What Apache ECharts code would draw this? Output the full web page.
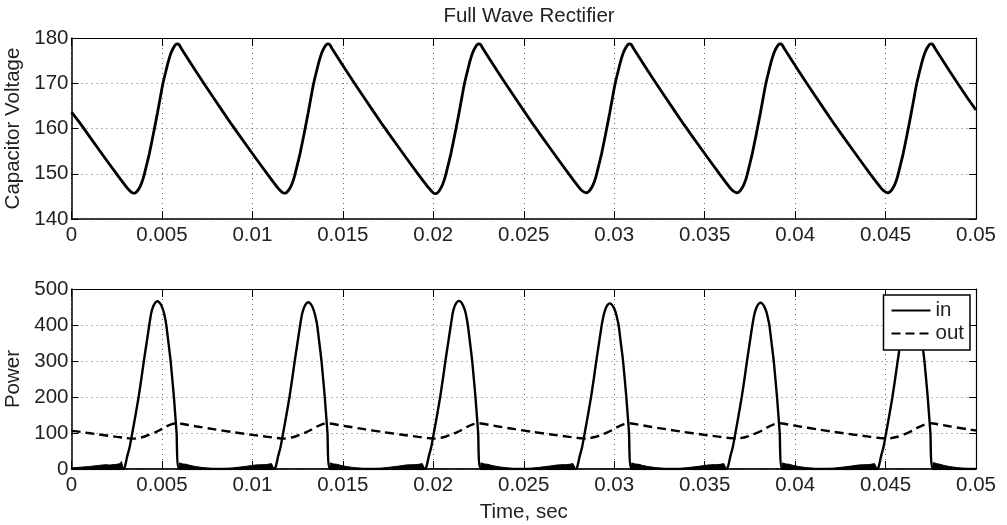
<!DOCTYPE html>
<html>
<head>
<meta charset="utf-8">
<script src="https://cdn.jsdelivr.net/npm/echarts@6/dist/echarts.min.js"></script>
<style>
html,body{margin:0;padding:0;background:#fff;}
#chart{width:1007px;height:525px;}
</style>
</head>
<body>
<div id="chart"></div>
<script>
// ---------- data ----------
const titleText = 'Full Wave Rectifier';
const xTickLabels = ['0','0.005','0.01','0.015','0.02','0.025','0.03','0.035','0.04','0.045','0.05'];
const capTicks = [140, 150, 160, 170, 180];
const powerTicks = [0, 100, 200, 300, 400, 500];

// Capacitor voltage [time s, volts]
const capacitorVoltage = [
[0,163.6],[0.00052,160.9],[0.00152,155.3],[0.00252,149.8],
[0.00303,147.1],[0.00318,146.4],[0.00332,145.9],[0.00344,145.7],[0.00357,145.9],[0.00370,146.5],[0.00385,147.7],[0.00400,149.5],[0.00415,151.9],[0.00430,154.4],[0.00445,157.3],[0.00460,160.3],[0.00475,163.4],[0.00490,166.7],[0.00505,169.9],[0.00520,172.4],[0.00535,174.8],[0.00550,176.7],[0.00563,177.8],[0.00575,178.5],[0.00585,178.7],[0.00595,178.5],[0.00607,177.7],[0.00685,172.8],[0.00785,166.8],[0.00885,160.9],[0.00985,155.3],[0.01085,149.8],
[0.01136,147.1],[0.01151,146.4],[0.01165,145.9],[0.01177,145.7],[0.01190,145.9],[0.01203,146.5],[0.01218,147.7],[0.01233,149.5],[0.01248,151.9],[0.01263,154.4],[0.01278,157.3],[0.01293,160.3],[0.01308,163.4],[0.01323,166.7],[0.01338,169.9],[0.01353,172.4],[0.01368,174.8],[0.01383,176.7],[0.01396,177.8],[0.01408,178.5],[0.01418,178.7],[0.01428,178.5],[0.01440,177.7],[0.01518,172.8],[0.01618,166.8],[0.01718,160.9],[0.01818,155.3],[0.01918,149.8],
[0.01970,147.1],[0.01985,146.4],[0.01999,145.8],[0.02011,145.6],[0.02024,145.8],[0.02037,146.5],[0.02052,147.7],[0.02067,149.5],[0.02082,151.9],[0.02097,154.4],[0.02112,157.3],[0.02127,160.3],[0.02142,163.4],[0.02157,166.7],[0.02172,169.9],[0.02187,172.4],[0.02202,174.8],[0.02217,176.7],[0.02230,177.8],[0.02242,178.5],[0.02252,178.7],[0.02262,178.5],[0.02274,177.7],[0.02352,172.8],[0.02452,166.8],[0.02552,160.9],[0.02652,155.3],[0.02752,149.8],
[0.02803,147.1],[0.02818,146.4],[0.02832,146.0],[0.02844,145.8],[0.02857,146.0],[0.02870,146.6],[0.02885,147.7],[0.02900,149.5],[0.02915,151.9],[0.02930,154.4],[0.02945,157.3],[0.02960,160.3],[0.02975,163.4],[0.02990,166.7],[0.03005,169.9],[0.03020,172.4],[0.03035,174.8],[0.03050,176.7],[0.03063,177.8],[0.03075,178.5],[0.03085,178.7],[0.03095,178.5],[0.03107,177.7],[0.03185,172.8],[0.03285,166.8],[0.03385,160.9],[0.03485,155.3],[0.03585,149.8],
[0.03636,147.1],[0.03651,146.4],[0.03665,146.0],[0.03677,145.8],[0.03690,146.0],[0.03703,146.6],[0.03718,147.7],[0.03733,149.5],[0.03748,151.9],[0.03763,154.4],[0.03778,157.3],[0.03793,160.3],[0.03808,163.4],[0.03823,166.7],[0.03838,169.9],[0.03853,172.4],[0.03868,174.8],[0.03883,176.7],[0.03896,177.8],[0.03908,178.5],[0.03918,178.7],[0.03928,178.5],[0.03940,177.7],[0.04018,172.8],[0.04118,166.8],[0.04218,160.9],[0.04318,155.3],[0.04418,149.8],
[0.04470,147.1],[0.04485,146.4],[0.04499,146.0],[0.04511,145.8],[0.04524,146.0],[0.04537,146.6],[0.04552,147.7],[0.04567,149.5],[0.04582,151.9],[0.04597,154.4],[0.04612,157.3],[0.04627,160.3],[0.04642,163.4],[0.04657,166.7],[0.04672,169.9],[0.04687,172.4],[0.04702,174.8],[0.04717,176.7],[0.04730,177.8],[0.04742,178.5],[0.04752,178.7],[0.04762,178.5],[0.04774,177.7],[0.04852,172.8],[0.04952,166.8],[0.05000,164.1]
];

// Input power [time s, W] (pulses)
const powerIn = [
[0,0],
[0.00286,0],[0.00296,8],[0.00308,35],[0.00322,62],[0.00336,100],[0.00354,150],[0.00371,200],[0.00386,250],[0.00400,300],[0.00415,350],[0.00430,400],[0.00441,434],[0.00452,452],[0.00463,462],[0.00474,466],[0.00485,463],[0.00496,455],[0.00507,441],[0.00515,425],[0.00524,400],[0.00535,355],[0.00548,300],[0.00566,200],[0.00581,100],[0.00595,0],
[0.01120,0],[0.01130,8],[0.01142,35],[0.01156,62],[0.01170,100],[0.01188,150],[0.01205,200],[0.01220,250],[0.01234,300],[0.01249,350],[0.01264,400],[0.01275,431],[0.01286,449],[0.01297,459],[0.01308,463],[0.01319,460],[0.01330,452],[0.01341,438],[0.01349,422],[0.01358,400],[0.01369,355],[0.01382,300],[0.01400,200],[0.01415,100],[0.01429,0],
[0.01953,0],[0.01963,8],[0.01975,35],[0.01989,62],[0.02003,100],[0.02021,150],[0.02038,200],[0.02053,250],[0.02067,300],[0.02082,350],[0.02097,400],[0.02108,435],[0.02119,453],[0.02130,463],[0.02141,467],[0.02152,464],[0.02163,456],[0.02174,442],[0.02182,426],[0.02191,400],[0.02202,355],[0.02215,300],[0.02233,200],[0.02248,100],[0.02262,0],
[0.02787,0],[0.02797,8],[0.02809,35],[0.02823,62],[0.02837,100],[0.02855,150],[0.02872,200],[0.02887,250],[0.02901,300],[0.02916,350],[0.02931,400],[0.02942,428],[0.02953,446],[0.02964,456],[0.02975,460],[0.02986,457],[0.02997,449],[0.03008,435],[0.03016,419],[0.03025,398],[0.03036,353],[0.03049,300],[0.03067,200],[0.03082,100],[0.03096,0],
[0.03620,0],[0.03630,8],[0.03642,35],[0.03656,62],[0.03670,100],[0.03688,150],[0.03705,200],[0.03720,250],[0.03734,300],[0.03749,350],[0.03764,400],[0.03775,430],[0.03786,448],[0.03797,458],[0.03808,462],[0.03819,459],[0.03830,451],[0.03841,437],[0.03849,421],[0.03858,399],[0.03869,354],[0.03882,300],[0.03900,200],[0.03915,100],[0.03929,0],
[0.04453,0],[0.04463,8],[0.04475,35],[0.04489,62],[0.04503,100],[0.04521,150],[0.04538,200],[0.04553,250],[0.04567,300],[0.04582,350],[0.04597,400],[0.04608,430],[0.04619,448],[0.04630,458],[0.04641,462],[0.04652,459],[0.04663,451],[0.04674,437],[0.04682,421],[0.04691,399],[0.04702,354],[0.04715,300],[0.04733,200],[0.04748,100],[0.04762,0],
[0.05,0]
];

// Input power chatter between pulses (filled envelope, part of "in")
const powerInChatter = [
[0,3],[0.0005,5],[0.001,7],[0.0015,10],[0.0019,12],[0.0021,11],[0.0022,14],[0.0023,12],[0.0024,16],[0.0025,13],[0.0026,18],[0.0027,15],[0.00276,21],[0.0028,13],[0.00286,0],
[0.00594,0],[0.00596,17],[0.00615,14],[0.00635,13],[0.00655,10],[0.00685,7],[0.00725,4],[0.00775,1.5],[0.00825,0.5],[0.00875,2],[0.00925,5],[0.00975,8],[0.01015,11],[0.01045,12],[0.01055,15],[0.01065,12],[0.01075,16],[0.01085,13],[0.01095,18],[0.01105,15],[0.01111,20],[0.01116,12],[0.01120,0],
[0.01428,0],[0.01430,17],[0.01449,14],[0.01469,13],[0.01489,10],[0.01519,7],[0.01559,4],[0.01609,1.5],[0.01659,0.5],[0.01709,2],[0.01759,5],[0.01809,8],[0.01849,11],[0.01879,12],[0.01889,15],[0.01899,12],[0.01909,16],[0.01919,13],[0.01929,18],[0.01939,15],[0.01945,20],[0.01949,12],[0.01953,0],
[0.02261,0],[0.02263,17],[0.02282,14],[0.02302,13],[0.02322,10],[0.02352,7],[0.02392,4],[0.02442,1.5],[0.02492,0.5],[0.02542,2],[0.02592,5],[0.02642,8],[0.02682,11],[0.02712,12],[0.02722,15],[0.02732,12],[0.02742,16],[0.02752,13],[0.02762,18],[0.02772,15],[0.02778,20],[0.02783,12],[0.02787,0],
[0.03095,0],[0.03097,17],[0.03116,14],[0.03136,13],[0.03156,10],[0.03186,7],[0.03226,4],[0.03276,1.5],[0.03326,0.5],[0.03376,2],[0.03426,5],[0.03476,8],[0.03516,11],[0.03546,12],[0.03556,15],[0.03566,12],[0.03576,16],[0.03586,13],[0.03596,18],[0.03606,15],[0.03612,20],[0.03616,12],[0.03620,0],
[0.03928,0],[0.03930,17],[0.03949,14],[0.03969,13],[0.03989,10],[0.04019,7],[0.04059,4],[0.04109,1.5],[0.04159,0.5],[0.04209,2],[0.04259,5],[0.04309,8],[0.04349,11],[0.04379,12],[0.04389,15],[0.04399,12],[0.04409,16],[0.04419,13],[0.04429,18],[0.04439,15],[0.04445,20],[0.04449,12],[0.04453,0],
[0.04761,0],[0.04763,18],[0.04782,15],[0.04802,13],[0.04822,10],[0.04852,7],[0.04892,4],[0.04942,1.5],[0.05,0.8]
];

// Output power [time s, W]
const powerOut = [
[0,106],[0.00052,102.9],[0.00152,95.9],[0.00252,89.2],
[0.00303,86.0],[0.00344,84.4],[0.00400,89.5],[0.00432,95.9],[0.00463,101.8],[0.00487,107.6],[0.00511,114.9],[0.00555,124.6],[0.00585,127.0],[0.00607,125.6],[0.00685,118.7],[0.00785,110.6],[0.00885,102.9],[0.00985,95.9],[0.01085,89.2],
[0.01136,86.0],[0.01177,84.4],[0.01233,89.5],[0.01265,95.9],[0.01296,101.8],[0.01320,107.6],[0.01344,114.9],[0.01388,124.6],[0.01418,127.0],[0.01440,125.6],[0.01518,118.7],[0.01618,110.6],[0.01718,102.9],[0.01818,95.9],[0.01918,89.2],
[0.01970,86.0],[0.02011,84.4],[0.02067,89.5],[0.02099,95.9],[0.02130,101.8],[0.02154,107.6],[0.02178,114.9],[0.02222,124.6],[0.02252,127.0],[0.02274,125.6],[0.02352,118.7],[0.02452,110.6],[0.02552,102.9],[0.02652,95.9],[0.02752,89.2],
[0.02803,86.0],[0.02844,84.4],[0.02900,89.5],[0.02932,95.9],[0.02963,101.8],[0.02987,107.6],[0.03011,114.9],[0.03055,124.6],[0.03085,127.0],[0.03107,125.6],[0.03185,118.7],[0.03285,110.6],[0.03385,102.9],[0.03485,95.9],[0.03585,89.2],
[0.03636,86.0],[0.03677,84.4],[0.03733,89.5],[0.03765,95.9],[0.03796,101.8],[0.03820,107.6],[0.03844,114.9],[0.03888,124.6],[0.03918,127.0],[0.03940,125.6],[0.04018,118.7],[0.04118,110.6],[0.04218,102.9],[0.04318,95.9],[0.04418,89.2],
[0.04470,86.0],[0.04511,84.4],[0.04567,89.5],[0.04599,95.9],[0.04630,101.8],[0.04654,107.6],[0.04678,114.9],[0.04722,124.6],[0.04752,127.0],[0.04774,125.6],[0.04852,118.7],[0.04952,110.6],[0.05,106.9]
];

// ---------- chart ----------
const FONT = '"Liberation Sans", Arial, Helvetica, sans-serif';
const FS = 20.5;
const TXT = '#222';
const gridLine = {show: true, lineStyle: {color: '#666', width: 1, type: [1, 4]}};

function xLabel(v) { return xTickLabels[Math.round(v / 0.005)]; }

function mainX(gridIndex, withName) {
  return {
    type: 'value', gridIndex: gridIndex, position: 'bottom',
    min: 0, max: 0.05, interval: 0.005,
    name: withName ? 'Time, sec' : '', nameLocation: 'middle', nameGap: 33,
    nameTextStyle: {fontFamily: FONT, fontSize: FS, color: TXT},
    axisLine: {show: true, onZero: false, lineStyle: {color: '#000', width: 1.5}},
    axisTick: {show: true, inside: true, length: 8, lineStyle: {color: '#000', width: 1}},
    axisLabel: {show: true, margin: 6, fontFamily: FONT, fontSize: FS, color: TXT, formatter: xLabel, showMinLabel: true, showMaxLabel: true},
    splitLine: gridLine
  };
}
function topX(gridIndex) {
  return {
    type: 'value', gridIndex: gridIndex, position: 'top',
    min: 0, max: 0.05, interval: 0.005,
    axisLine: {show: true, onZero: false, lineStyle: {color: '#000', width: 1.2}},
    axisTick: {show: true, inside: true, length: 8, lineStyle: {color: '#000', width: 1}},
    axisLabel: {show: false}, splitLine: {show: false}
  };
}
function mainY(gridIndex, ticks, name) {
  const step = ticks[1] - ticks[0];
  return {
    type: 'value', gridIndex: gridIndex, position: 'left',
    min: ticks[0], max: ticks[ticks.length - 1], interval: step,
    name: name, nameLocation: 'middle', nameGap: 43, nameRotate: 90,
    nameTextStyle: {fontFamily: FONT, fontSize: FS, color: TXT},
    axisLine: {show: true, onZero: false, lineStyle: {color: '#000', width: 1.5}},
    axisTick: {show: true, inside: true, length: 7, lineStyle: {color: '#000', width: 1}},
    axisLabel: {show: true, margin: 3, fontFamily: FONT, fontSize: FS, color: TXT, showMinLabel: true, showMaxLabel: true},
    splitLine: gridLine
  };
}
function rightY(gridIndex, ticks) {
  const step = ticks[1] - ticks[0];
  return {
    type: 'value', gridIndex: gridIndex, position: 'right',
    min: ticks[0], max: ticks[ticks.length - 1], interval: step,
    axisLine: {show: true, onZero: false, lineStyle: {color: '#000', width: 1.2}},
    axisTick: {show: true, inside: true, length: 7, lineStyle: {color: '#000', width: 1}},
    axisLabel: {show: false}, splitLine: {show: false}
  };
}

const chart = echarts.init(document.getElementById('chart'), null, {renderer: 'canvas'});
chart.setOption({
  backgroundColor: '#fff',
  animation: false,
  title: {
    text: titleText, left: 524, top: 1, textAlign: 'center',
    textStyle: {fontFamily: FONT, fontSize: FS, fontWeight: 'normal', color: TXT}
  },
  grid: [
    {left: 71.5, top: 38, width: 904.5, height: 181, containLabel: false, outerBoundsMode: 'none'},
    {left: 71.5, top: 289, width: 904.5, height: 180, containLabel: false, outerBoundsMode: 'none'}
  ],
  xAxis: [mainX(0, false), topX(0), mainX(1, true), topX(1)],
  yAxis: [mainY(0, capTicks, 'Capacitor Voltage'), rightY(0, capTicks), mainY(1, powerTicks, 'Power'), rightY(1, powerTicks)],
  legend: {
    data: ['in', 'out'], orient: 'vertical', right: 37, top: 295,
    backgroundColor: '#fff', borderColor: '#000', borderWidth: 1.5, borderRadius: 0,
    padding: [5, 6, 6, 7], itemWidth: 39, itemHeight: 14, itemGap: 2,
    itemStyle: {opacity: 0, borderWidth: 0},
    textStyle: {fontFamily: FONT, fontSize: FS, color: TXT},
    selectedMode: false
  },
  series: [
    {
      name: 'Capacitor Voltage', type: 'line', xAxisIndex: 0, yAxisIndex: 0,
      data: capacitorVoltage, showSymbol: false, symbol: 'none', smooth: 0.2,
      lineStyle: {color: '#000', width: 2.8}, z: 3
    },
    {
      name: 'in-chatter', type: 'line', xAxisIndex: 2, yAxisIndex: 2,
      data: powerInChatter, symbol: 'none', smooth: false,
      lineStyle: {color: '#000', width: 1}, areaStyle: {color: '#000', opacity: 1, origin: 'start'}, z: 2
    },
    {
      name: 'in', type: 'line', xAxisIndex: 2, yAxisIndex: 2,
      data: powerIn, symbol: 'none', smooth: 0.15,
      itemStyle: {color: '#000'},
      lineStyle: {color: '#000', width: 2.4}, z: 3
    },
    {
      name: 'out', type: 'line', xAxisIndex: 2, yAxisIndex: 2,
      data: powerOut, symbol: 'none', smooth: 0.2,
      itemStyle: {color: '#000'},
      lineStyle: {color: '#000', width: 2.4, type: [9, 5]}, z: 3
    }
  ]
});
</script>
</body>
</html>
